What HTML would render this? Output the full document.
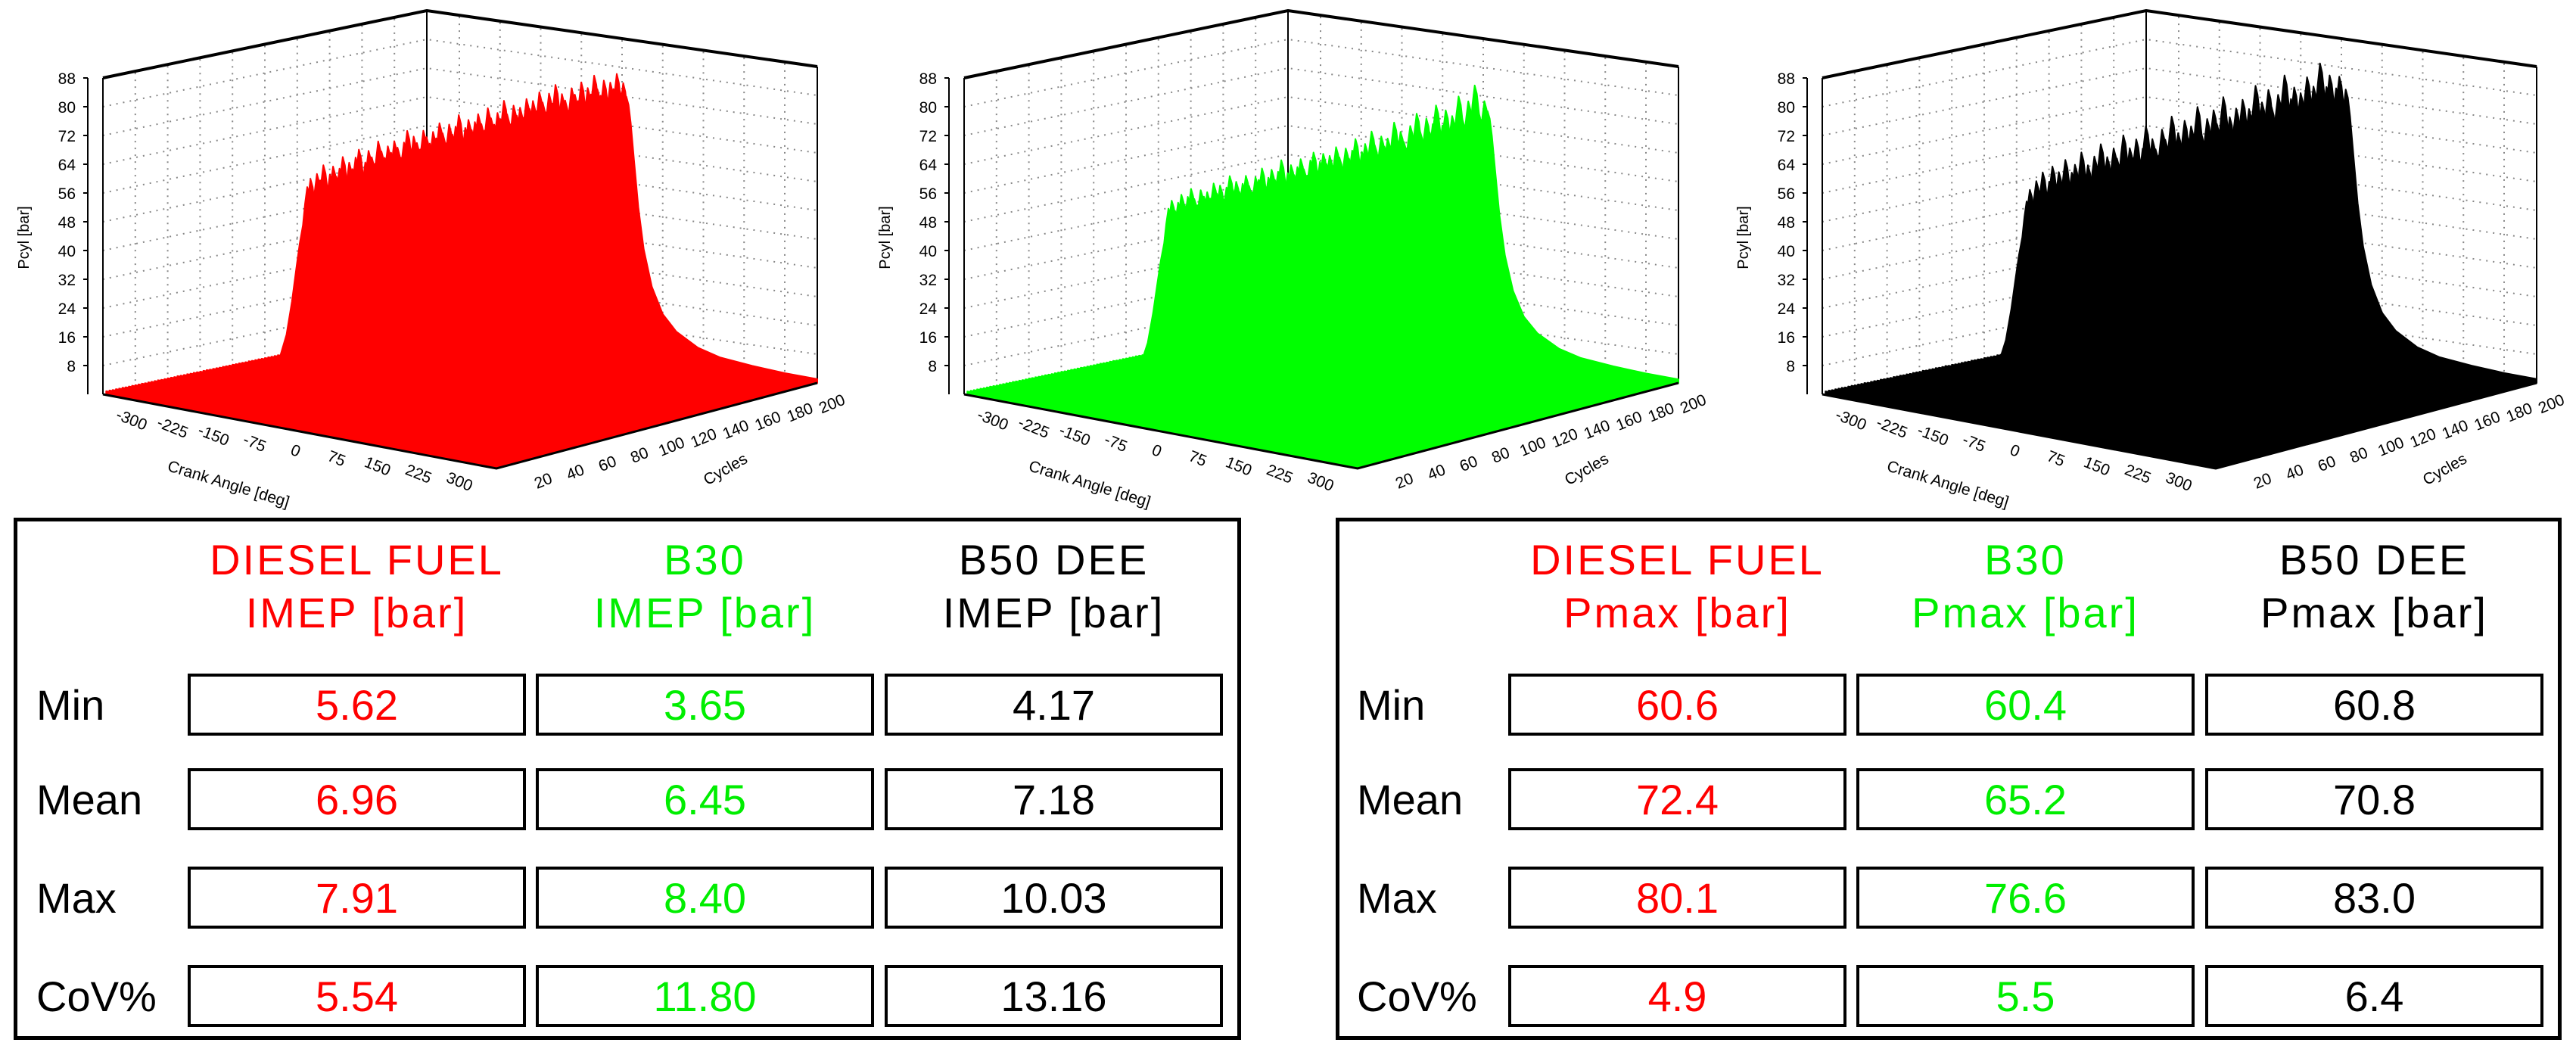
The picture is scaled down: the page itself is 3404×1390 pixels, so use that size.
<!DOCTYPE html>
<html><head><meta charset="utf-8">
<style>
html,body{margin:0;padding:0;background:#fff;}
#root{position:relative;width:3404px;height:1390px;overflow:hidden;background:#fff;font-family:"Liberation Sans",sans-serif;}
svg{position:absolute;left:0;top:0;}
.tbl{position:absolute;border:5px solid #000;box-sizing:border-box;}
.hd{position:absolute;text-align:center;font-size:56px;letter-spacing:3px;line-height:1;transform:translateX(-50%);white-space:nowrap;}
.rl{position:absolute;font-size:56px;line-height:1;left:30px;}
.cell{position:absolute;border:4px solid #000;box-sizing:border-box;text-align:center;font-size:56px;display:flex;align-items:center;justify-content:center;}
</style></head>
<body>
<div id="root">
<svg id="chart" width="3404" height="1390"></svg>

<div class="tbl" style="left:18px;top:684px;width:1622px;height:690px;"></div>
<div class="tbl" style="left:1765px;top:684px;width:1620px;height:690px;"></div>
<div id="tables"></div>
</div>
<script>
// ---- chart data ----
const crankAngles = [-360,-300,-240,-180,-120,-90,-60,-45,-30,-20,-12,-6,0,4,8,12,16,22,30,40,55,75,100,140,180,240,300,360];
const traceShape  = [0.010,0.012,0.018,0.032,0.065,0.10,0.18,0.26,0.38,0.52,0.66,0.76,0.84,0.93,1.0,0.97,0.90,0.76,0.58,0.42,0.28,0.18,0.12,0.07,0.045,0.03,0.02,0.015];
const cycleTicks = [20,40,60,80,100,120,140,160,180,200];
const crankTicks = [-300,-225,-150,-75,0,75,150,225,300];
const pTicks = [8,16,24,32,40,48,56,64,72,80,88];
const dieselPeaks = [68,70,66,71,69,73,67,70,72,69,71,74,68,72,70,73,75,69,71,74,72,70,76,73,71,74,72,75,73,70,74,77,72,75,73,71,76,74,72,75,73,77,74,71,76,73,75,78,72,74,
76,73,75,77,74,72,78,75,73,76,74,79,75,72,77,74,76,73,78,75,77,74,79,76,73,78,75,80,74,77,75,72,78,76,74,79,73,77,75,80,76,74,78,73,77,75,79,74,76,72];
const b30Peaks = [62,64,61,63,65,62,64,66,63,61,65,63,64,62,66,63,65,61,64,67,63,65,62,64,66,63,61,65,64,67,62,64,66,63,65,68,62,64,66,63,65,67,64,62,66,68,63,65,67,64,
66,63,68,65,62,67,64,66,69,63,65,67,64,70,66,63,68,65,67,64,71,66,68,65,63,69,66,72,67,64,70,66,68,73,65,67,71,64,69,66,74,68,65,72,67,76,69,66,71,68];
const b50Peaks = [64,67,62,69,66,71,63,68,72,65,70,67,73,61,69,71,66,74,68,70,65,72,69,75,67,71,64,73,70,68,76,66,72,69,74,67,71,77,65,73,70,68,75,72,66,78,70,73,68,76,
71,74,67,79,72,69,75,70,77,73,68,80,71,74,69,76,72,78,70,75,73,81,68,76,72,79,74,70,77,73,82,71,75,78,72,76,69,80,74,77,73,83,71,76,79,72,75,78,70,74];
// ---- table data ----
const fuels = ["DIESEL FUEL","B30","B50 DEE"];
const fuelColors = ["#ff0000","#00ee00","#000000"];
const statNames = ["Min","Mean","Max","CoV%"];
const imepVals = [["5.62","3.65","4.17"],["6.96","6.45","7.18"],["7.91","8.40","10.03"],["5.54","11.80","13.16"]];
const pmaxVals = [["60.6","60.4","60.8"],["72.4","65.2","70.8"],["80.1","76.6","83.0"],["4.9","5.5","6.4"]];

const NS="http://www.w3.org/2000/svg";
const svg=document.getElementById('chart');
function mk(tag,attrs,parent){const e=document.createElementNS(NS,tag);for(const k in attrs)e.setAttribute(k,attrs[k]);(parent||svg).appendChild(e);return e;}

const CR=[-360,360], CY=[0,200], PM=88, HP=418;
function floorPt(ox,crank,cyc){
  const a=(crank-CR[0])/(CR[1]-CR[0]), b=(cyc-CY[0])/(CY[1]-CY[0]);
  const L=[136,521],F=[656,619],R=[1080,506],B=[564,432];
  const x=(1-a)*(1-b)*L[0]+a*(1-b)*F[0]+a*b*R[0]+(1-a)*b*B[0];
  const y=(1-a)*(1-b)*L[1]+a*(1-b)*F[1]+a*b*R[1]+(1-a)*b*B[1];
  return [x+ox,y];
}
function P(ox,crank,cyc,p){const f=floorPt(ox,crank,cyc);return [f[0],f[1]-p/PM*HP];}

function drawChart(ox,peaks,color,name){
  const g=mk('g',{});
  
  
  pTicks.forEach(p=>{
    const a=P(ox,CR[0],0,p),b=P(ox,CR[0],200,p),c=P(ox,CR[1],200,p);
    const gl=mk('polyline',{points:a.join(',')+' '+b.join(',')+' '+c.join(','),fill:'none',stroke:'#888','stroke-width':2,'stroke-dasharray':'2,7'},g);
    
    
  });
  cycleTicks.forEach(cy=>{
    const a=P(ox,CR[0],cy,0),b=P(ox,CR[0],cy,PM);
    const gl=mk('line',{x1:a[0],y1:a[1],x2:b[0],y2:b[1],stroke:'#888','stroke-width':2,'stroke-dasharray':'2,7'},g);
    
    
  });
  crankTicks.forEach(cr=>{
    const a=P(ox,cr,200,0),b=P(ox,cr,200,PM);
    const gl=mk('line',{x1:a[0],y1:a[1],x2:b[0],y2:b[1],stroke:'#888','stroke-width':2,'stroke-dasharray':'2,7'},g);
    
    
  });
  const tl=P(ox,CR[0],0,PM),tb=P(ox,CR[0],200,PM),tr=P(ox,CR[1],200,PM);
  const bl=P(ox,CR[0],0,0),bb=P(ox,CR[0],200,0),br=P(ox,CR[1],200,0),fr=P(ox,CR[1],0,0);
  let e=mk('polyline',{points:[tl,tb,tr].map(p=>p.join(',')).join(' '),fill:'none',stroke:'#000','stroke-width':4},g);
  
  e=mk('line',{x1:tb[0],y1:tb[1],x2:bb[0],y2:bb[1],stroke:'#000','stroke-width':2},g);
  
  e=mk('line',{x1:tl[0],y1:tl[1],x2:bl[0],y2:bl[1],stroke:'#000','stroke-width':2},g);
  
  e=mk('line',{x1:tr[0],y1:tr[1],x2:br[0],y2:br[1],stroke:'#000','stroke-width':2},g);
  
  for(let i=peaks.length-1;i>=0;i--){
    const cyc=(i+1)*2;
    const curve=crankAngles.map((cr,k)=>P(ox,cr,cyc,traceShape[k]*peaks[i]));
    const f0=floorPt(ox,CR[1],cyc), f1=floorPt(ox,CR[0],cyc);
    const pts=curve.concat([f0,f1]).map(p=>p[0].toFixed(1)+','+p[1].toFixed(1)).join(' ');
    const pl=mk('polygon',{points:pts,fill:color,stroke:color,'stroke-width':2,'stroke-linejoin':'round'},g);
    
    
  }
  e=mk('polyline',{points:[bl,fr,br].map(p=>p.join(',')).join(' '),fill:'none',stroke:'#000','stroke-width':3},g);
  
  const ax=ox+116;
  e=mk('line',{x1:ax,y1:103,x2:ax,y2:521,stroke:'#000','stroke-width':2},g);
  
  pTicks.forEach(p=>{
    const y=521-p/PM*HP;
    const t=mk('line',{x1:ax-6,y1:y,x2:ax,y2:y,stroke:'#000','stroke-width':2},g);
    
    const tx=mk('text',{x:ax-16,y:y+8,'text-anchor':'end','font-size':21,'font-family':'Liberation Sans, sans-serif'},g);
    tx.textContent=p;
    
  });
  const yt=mk('text',{x:ox+38,y:314,'text-anchor':'middle','font-size':20,'font-family':'Liberation Sans, sans-serif',transform:`rotate(-90 ${ox+38} 314)`},g);
  yt.textContent='Pcyl [bar]';
  
  crankTicks.forEach(cr=>{
    const f=floorPt(ox,cr,0);
    const x=f[0]-8,y=f[1]+32;
    const tx=mk('text',{x:x,y:y,'text-anchor':'middle','font-size':21,'font-family':'Liberation Sans, sans-serif',transform:`rotate(22 ${x} ${y})`},g);
    tx.textContent=cr;
    
  });
  cycleTicks.forEach(cy=>{
    const f=floorPt(ox,CR[1],cy);
    const x=f[0]+22,y=f[1]+34;
    const tx=mk('text',{x:x,y:y,'text-anchor':'middle','font-size':21,'font-family':'Liberation Sans, sans-serif',transform:`rotate(-22 ${x} ${y})`},g);
    tx.textContent=cy;
    
  });
  let t=mk('text',{x:ox+300,y:646,'text-anchor':'middle','font-size':21,'font-family':'Liberation Sans, sans-serif',transform:`rotate(17 ${ox+300} 646)`},g);
  t.textContent='Crank Angle [deg]';
  
  t=mk('text',{x:ox+962,y:626,'text-anchor':'middle','font-size':21,'font-family':'Liberation Sans, sans-serif',transform:`rotate(-30 ${ox+962} 626)`},g);
  t.textContent='Cycles';
  
}
drawChart(0,dieselPeaks,'#ff0000','diesel-chart');
drawChart(1138,b30Peaks,'#00ff00','b30-chart');
drawChart(2272,b50Peaks,'#000000','b50-chart');

const host=document.getElementById('tables');
const colL=[248,708,1169], colW=447, rowT=[890,1015,1145,1275], rowH=82;
function buildTable(off,unit,vals,key){
  fuels.forEach((f,j)=>{
    const cx=off+colL[j]+colW/2;
    const h1=document.createElement('div');h1.className='hd';
    h1.style.left=cx+'px';h1.style.top='712px';h1.style.color=fuelColors[j];h1.textContent=f;
    
    
    host.appendChild(h1);
    const h2=document.createElement('div');h2.className='hd';
    h2.style.left=cx+'px';h2.style.top='782px';h2.style.color=fuelColors[j];h2.textContent=unit;
    
    
    host.appendChild(h2);
  });
  statNames.forEach((s,i)=>{
    const r=document.createElement('div');r.className='rl';
    r.style.left=(off+48)+'px';r.style.top=(rowT[i]+14)+'px';r.textContent=s;
    
    
    host.appendChild(r);
    vals[i].forEach((v,j)=>{
      const c=document.createElement('div');c.className='cell';
      c.style.left=(off+colL[j])+'px';c.style.top=rowT[i]+'px';c.style.width=colW+'px';c.style.height=rowH+'px';
      c.style.color=fuelColors[j];c.textContent=v;
      
      
      host.appendChild(c);
    });
  });
}
buildTable(0,'IMEP [bar]',imepVals,'imep');
buildTable(1745,'Pmax [bar]',pmaxVals,'pmax');
</script>
</body></html>
